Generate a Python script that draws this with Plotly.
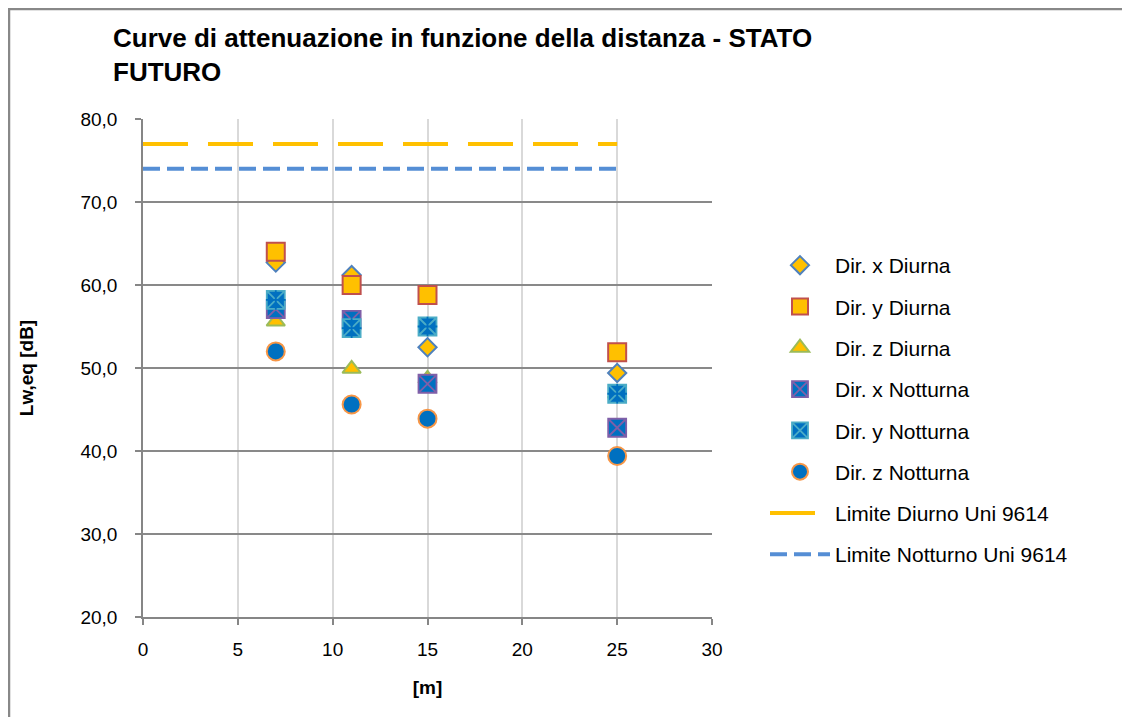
import plotly.graph_objects as go

# ---- data ----
dist = [7, 11, 15, 25]
dir_x_diurna = [62.7, 61.2, 52.5, 49.4]
dir_y_diurna = [64.0, 60.0, 58.8, 51.9]
dir_z_diurna = [55.6, 49.9, 48.7, 46.9]
dir_x_notturna = [57.1, 55.8, 48.1, 42.8]
dir_y_notturna = [58.2, 54.8, 55.0, 46.9]
dir_z_notturna = [52.0, 45.6, 43.9, 39.4]
lim_x = [0, 25]
lim_diurno = [77.0, 77.0]
lim_notturno = [74.0, 74.0]

names = ["Dir. x Diurna", "Dir. y Diurna", "Dir. z Diurna",
         "Dir. x Notturna", "Dir. y Notturna", "Dir. z Notturna",
         "Limite Diurno Uni 9614", "Limite Notturno Uni 9614"]

FONT = "Liberation Sans, Arial, sans-serif"
ORANGE = "#FFC000"
BLUE = "#0070C0"

fig = go.Figure()

def sc(y, name, symbol, size, fill, line, lw=2, group=None, showlegend=True):
    fig.add_trace(go.Scatter(
        x=dist, y=y, name=name, mode="markers",
        legendgroup=group or name, showlegend=showlegend,
        marker=dict(symbol=symbol, size=size, color=fill,
                    line=dict(color=line, width=lw))))

sc(dir_x_diurna, names[0], "diamond", 14, ORANGE, "#4F81BD")
sc(dir_y_diurna, names[1], "square", 18, ORANGE, "#C0504D")
sc(dir_z_diurna, names[2], "triangle-up", 16, ORANGE, "#9BBB59")
sc(dir_x_notturna, names[3], "square-x", 18, BLUE, "#7F5FA8", 1.8)
sc(dir_y_notturna, names[4], "square-x", 18, BLUE, "#4BACC6", 1.8)
sc(dir_y_notturna, names[4], "cross-thin-open", 14, BLUE, "#4BACC6", 1.8,
   group=names[4], showlegend=False)
sc(dir_z_notturna, names[5], "circle", 18, BLUE, "#F79646")

fig.add_trace(go.Scatter(x=lim_x, y=lim_diurno, name=names[6], mode="lines",
                         legendgroup=names[6],
                         line=dict(color=ORANGE, width=4, dash="45px,20px")))
fig.add_trace(go.Scatter(x=lim_x, y=lim_notturno, name=names[7], mode="lines",
                         legendgroup=names[7],
                         line=dict(color="#558ED5", width=4, dash="17px,7px")))

OFF = 8  # page body margin
W, H = 1132 - 2 * OFF, 725 - 2 * OFF
L, T = 143 - OFF, 119 - OFF
pw, ph = 569, 498
R, B = W - L - pw, H - T - ph

def px2x(p):
    return (p - OFF - L) / pw

def px2y(p):
    return (T + ph - (p - OFF)) / ph

fig.update_layout(
    width=W, height=H,
    margin=dict(l=L, r=R, t=T, b=B),
    paper_bgcolor="white", plot_bgcolor="white",
    font=dict(family=FONT, color="#000000", size=19),
    separators=",.",
    title=dict(text="<b>Curve di attenuazione in funzione della distanza - STATO<br>FUTURO</b>",
               x=(113 - OFF) / W, xref="container", xanchor="left",
               y=1 - 39 / H, yref="container", yanchor="top",
               font=dict(family=FONT, size=26, color="#000000")),
    xaxis=dict(range=[0, 30], dtick=5, tick0=0, tickformat="d",
               showgrid=True, gridcolor="#D9D9D9", gridwidth=1.5,
               showline=True, linecolor="#868686", linewidth=1.5,
               ticks="outside", ticklen=6, tickcolor="#868686", tickwidth=1.5,
               zeroline=False, ticklabelstandoff=8,
               tickfont=dict(size=19, family=FONT),
               title=dict(text="<b>[m]</b>", font=dict(size=19, family=FONT), standoff=22)),
    yaxis=dict(range=[20, 80], dtick=10, tick0=20, tickformat=".1f",
               showgrid=True, gridcolor="#898989", gridwidth=2,
               showline=True, linecolor="#868686", linewidth=1.5,
               ticks="outside", ticklen=6, tickcolor="#868686", tickwidth=1.5,
               zeroline=False, ticklabelstandoff=14,
               tickfont=dict(size=19, family=FONT),
               title=dict(text="<b>Lw,eq [dB]</b>", font=dict(size=19, family=FONT), standoff=42)),
    legend=dict(x=px2x(765), xanchor="left", y=px2y(410), yanchor="middle",
                font=dict(size=21, family=FONT), itemwidth=60,
                tracegroupgap=11, bgcolor="rgba(0,0,0,0)"),
    shapes=[dict(type="path", xref="paper", yref="paper",
                 path=f"M {px2x(9)},{px2y(740)} L {px2x(9)},{px2y(9)} L {px2x(1122)},{px2y(9)}",
                 line=dict(color="#888888", width=2.5))],
)

fig.write_html("out.html")
